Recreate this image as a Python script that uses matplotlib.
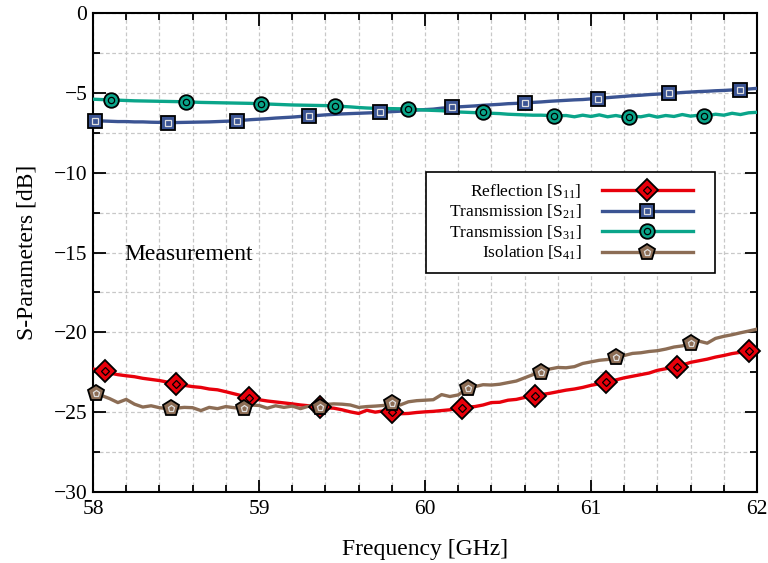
import numpy as np
import matplotlib
matplotlib.use("Agg")
import matplotlib.pyplot as plt
from matplotlib.lines import Line2D
from matplotlib.patches import Rectangle
from matplotlib.ticker import MultipleLocator

plt.rcParams['font.family'] = ['Liberation Serif', 'DejaVu Serif']
plt.rcParams['mathtext.fontset'] = 'custom'
plt.rcParams['mathtext.rm'] = 'Liberation Serif'
plt.rcParams['mathtext.it'] = 'Liberation Serif:italic'

# Frequency grid (GHz), 0.05 GHz step
freq = np.round(np.arange(58.0, 62.0001, 0.05), 2)

s11 = [-22.30, -22.38, -22.55, -22.65, -22.72, -22.78, -22.88, -22.95, -23.02, -23.12,
       -23.25, -23.32, -23.40, -23.45, -23.55, -23.60, -23.72, -23.85, -23.98, -24.10,
       -24.22, -24.30, -24.36, -24.42, -24.48, -24.55, -24.60, -24.66, -24.72, -24.75,
       -24.85, -24.98, -25.08, -24.88, -25.00, -24.92, -24.98, -25.10, -25.08, -25.02,
       -24.98, -24.95, -24.90, -24.85, -24.75, -24.68, -24.65, -24.55, -24.40, -24.38,
       -24.25, -24.20, -24.08, -23.98, -23.90, -23.82, -23.72, -23.62, -23.55, -23.45,
       -23.32, -23.22, -23.08, -22.98, -22.85, -22.75, -22.65, -22.55, -22.38, -22.28,
       -22.18, -22.05, -21.88, -21.78, -21.68, -21.55, -21.45, -21.33, -21.25, -21.15,
       -21.06]

s21 = [-6.74, -6.76, -6.78, -6.80, -6.80, -6.82, -6.82, -6.84, -6.85, -6.86,
       -6.86, -6.85, -6.84, -6.83, -6.82, -6.80, -6.78, -6.76, -6.72, -6.68,
       -6.65, -6.62, -6.58, -6.55, -6.52, -6.48, -6.45, -6.42, -6.38, -6.35,
       -6.32, -6.30, -6.28, -6.26, -6.24, -6.21, -6.18, -6.15, -6.12, -6.08,
       -6.05, -6.02, -5.96, -5.92, -5.88, -5.85, -5.82, -5.78, -5.75, -5.72,
       -5.68, -5.66, -5.63, -5.60, -5.57, -5.53, -5.50, -5.47, -5.44, -5.42,
       -5.38, -5.35, -5.30, -5.26, -5.22, -5.18, -5.15, -5.11, -5.08, -5.05,
       -5.02, -4.98, -4.95, -4.92, -4.90, -4.87, -4.85, -4.82, -4.80, -4.76,
       -4.72]

s31 = [-5.40, -5.42, -5.44, -5.46, -5.48, -5.50, -5.51, -5.52, -5.53, -5.54,
       -5.55, -5.56, -5.58, -5.60, -5.61, -5.62, -5.63, -5.64, -5.65, -5.66,
       -5.68, -5.70, -5.72, -5.74, -5.76, -5.77, -5.78, -5.79, -5.80, -5.82,
       -5.85, -5.88, -5.92, -5.95, -5.97, -5.98, -5.99, -6.00, -6.02, -6.05,
       -6.08, -6.10, -6.12, -6.16, -6.20, -6.22, -6.24, -6.25, -6.28, -6.30,
       -6.34, -6.36, -6.38, -6.40, -6.40, -6.42, -6.44, -6.42, -6.50, -6.40,
       -6.48, -6.38, -6.50, -6.42, -6.52, -6.46, -6.50, -6.40, -6.52, -6.42,
       -6.48, -6.36, -6.46, -6.40, -6.44, -6.34, -6.40, -6.28, -6.36, -6.25,
       -6.22]

s41 = [-23.80, -23.95, -24.15, -24.40, -24.20, -24.50, -24.68, -24.60, -24.72, -24.78,
       -24.75, -24.70, -24.72, -24.90, -24.70, -24.78, -24.65, -24.72, -24.75, -24.55,
       -24.58, -24.75, -24.60, -24.70, -24.62, -24.78, -24.62, -24.65, -24.52, -24.48,
       -24.50, -24.55, -24.70, -24.65, -24.62, -24.58, -24.42, -24.55, -24.35, -24.28,
       -24.25, -24.22, -23.90, -24.02, -23.92, -23.55, -23.40, -23.28, -23.30, -23.25,
       -23.15, -23.05, -22.85, -22.65, -22.48, -22.30, -22.20, -22.22, -22.15, -21.95,
       -21.85, -21.75, -21.70, -21.58, -21.45, -21.32, -21.28, -21.20, -21.15, -21.05,
       -20.92, -20.85, -20.70, -20.55, -20.68, -20.38, -20.25, -20.15, -20.03, -19.92,
       -19.80]

# Marker positions and values for each trace
s11_mk_f = [58.07, 58.50, 58.94, 59.37, 59.80, 60.22, 60.66, 61.09, 61.52, 61.95]
s11_mk_v = [-22.40, -23.25, -24.09, -24.69, -24.96, -24.71, -23.98, -23.12, -22.15, -21.15]
s21_mk_f = [58.01, 58.45, 58.87, 59.30, 59.73, 60.16, 60.60, 61.04, 61.47, 61.90]
s21_mk_v = [-6.74, -6.86, -6.75, -6.45, -6.22, -5.91, -5.63, -5.36, -5.04, -4.80]
s31_mk_f = [58.11, 58.56, 59.01, 59.46, 59.90, 60.35, 60.78, 61.23, 61.68]
s31_mk_v = [-5.45, -5.57, -5.68, -5.80, -6.01, -6.22, -6.43, -6.49, -6.43]
s41_mk_f = [58.02, 58.47, 58.91, 59.37, 59.80, 60.26, 60.70, 61.15, 61.60]
s41_mk_v = [-23.81, -24.75, -24.75, -24.65, -24.40, -23.50, -22.48, -21.56, -20.68]

labels = ['Reflection [S$_{11}$]', 'Transmission [S$_{21}$]',
          'Transmission [S$_{31}$]', 'Isolation [S$_{41}$]']
colors = ['#e8000b', '#3b5493', '#0aa58a', '#8c6d55']
markers = ['D', 's', 'o', 'p']
outer_sizes = [11, 10.5, 10.5, 12]
inner_sizes = [4.5, 4.5, 4.5, 5]
inner_edges = ['#000000', '#e0e0e0', '#000000', '#e0e0e0']

fig = plt.figure(figsize=(7.68, 5.63), dpi=100)
ax = fig.add_axes([93 / 768, 1 - 492 / 563, 664 / 768, 479 / 563])

series = [(s11, s11_mk_f, s11_mk_v), (s21, s21_mk_f, s21_mk_v),
          (s31, s31_mk_f, s31_mk_v), (s41, s41_mk_f, s41_mk_v)]

draw_order = [2, 1, 3, 0]
for i in draw_order:
    vals, mf, mv = series[i]
    ax.plot(freq, vals, color=colors[i], lw=2.4, zorder=3 + i * 0.1)
    ax.plot(mf, mv, ls='none', marker=markers[i], ms=outer_sizes[i],
            mfc=colors[i], mec='black', mew=1.3, zorder=4 + i * 0.1, clip_on=False)
    ax.plot(mf, mv, ls='none', marker=markers[i], ms=inner_sizes[i],
            mfc='none', mec=inner_edges[i], mew=0.9, zorder=4.05 + i * 0.1, clip_on=False)

handles = []
for i in range(4):
    handles.append((Line2D([], [], color=colors[i], lw=2.4),
                    Line2D([], [], ls='none', marker=markers[i], ms=outer_sizes[i],
                           mfc=colors[i], mec='black', mew=1.3),
                    Line2D([], [], ls='none', marker=markers[i], ms=inner_sizes[i],
                           mfc='none', mec=inner_edges[i], mew=0.9)))

ax.set_xlim(58, 62)
ax.set_ylim(-30, 0)
ax.xaxis.set_major_locator(MultipleLocator(1))
ax.xaxis.set_minor_locator(MultipleLocator(0.2))
ax.yaxis.set_major_locator(MultipleLocator(5))
ax.yaxis.set_minor_locator(MultipleLocator(2.5))
ax.grid(which='both', color='#c8c8c8', ls=(0, (3, 2)), lw=0.9, zorder=0)
ax.tick_params(which='both', direction='in', top=True, right=True, width=1.3)
ax.tick_params(which='major', length=9, labelsize=15.5)
ax.tick_params(axis='x', which='major', pad=6)
ax.tick_params(axis='y', which='major', pad=4)
ax.tick_params(which='minor', length=5)
for sp in ax.spines.values():
    sp.set_linewidth(1.5)

ax.set_xlabel('Frequency [GHz]', fontsize=17, labelpad=14)
ax.set_ylabel('S-Parameters [dB]', fontsize=17, labelpad=12)

ax.text(58.19, -15.1, 'Measurement', fontsize=17, ha='left', va='center')

# Legend without its own frame; a wider box is drawn around it
leg = ax.legend(handles, labels, loc='upper right', bbox_to_anchor=(0.9187, 0.668),
                borderaxespad=0, fontsize=12.5, markerfirst=False, handlelength=5.2,
                handletextpad=1.2, labelspacing=0.12, borderpad=0.6, frameon=False)
leg.set_zorder(10)

fig.canvas.draw()
bb = leg.get_window_extent(fig.canvas.get_renderer())
ext = 12
box = Rectangle((bb.x0 - ext, bb.y0), bb.width + 2 * ext, bb.height,
                transform=None, facecolor='white', edgecolor='black', lw=1.2, zorder=9)
ax.add_artist(box)

fig.savefig('out.png', dpi=100)
